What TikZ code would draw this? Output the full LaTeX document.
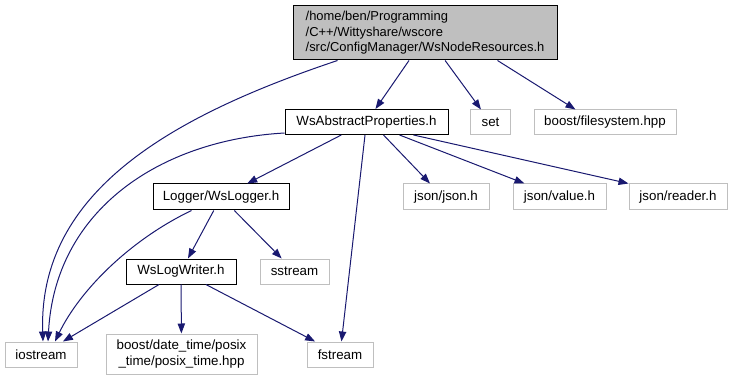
\documentclass[tikz,border=0pt]{standalone}
\usepackage{fontspec}
\setmainfont{Liberation Sans}
\usetikzlibrary{arrows.meta,calc}
\definecolor{edgeblue}{HTML}{191970}
\definecolor{sysgray}{HTML}{BFBFBF}
\begin{document}
\begin{tikzpicture}[x=0.75pt,y=-0.75pt,
  font=\fontsize{10}{11.8}\selectfont,
  hdr/.style={draw=black,line width=0.75pt,minimum height=18.75pt,inner sep=0pt},
  sys/.style={draw=sysgray,line width=0.75pt,minimum height=18.75pt,inner sep=0pt},
  dep/.style={draw=edgeblue,line width=0.75pt,-{Triangle[length=7.5pt,width=5.5pt]}}]
\useasboundingbox (0,0) rectangle (732,381);
\node[hdr,fill=sysgray,align=left,minimum width=198pt,minimum height=40.5pt,
  font=\fontsize{9.7}{11.6}\selectfont] (root) at (425,33)
  {/home/ben/Programming\\/C++/Wittyshare/wscore\\/src/ConfigManager/WsNodeResources.h};
\node[hdr,minimum width=122.25pt] (props) at (366.5,122) {WsAbstractProperties.h};
\node[sys,minimum width=30pt] (set) at (490.5,122.5) {set};
\node[sys,minimum width=106.5pt] (fs) at (605,122.5) {boost/filesystem.hpp};
\node[hdr,minimum width=102pt,minimum height=19.5pt] (logger) at (221,197) {Logger/WsLogger.h};
\node[sys,minimum width=64.5pt,minimum height=19.5pt] (json) at (446,197) {json/json.h};
\node[sys,minimum width=69.75pt,minimum height=19.5pt] (value) at (559.5,197) {json/value.h};
\node[sys,minimum width=73.5pt,minimum height=19.5pt] (reader) at (678,197) {json/reader.h};
\node[hdr,minimum width=82.5pt] (writer) at (181,271.5) {WsLogWriter.h};
\node[sys,minimum width=51.75pt] (sstream) at (294.5,271.5) {sstream};
\node[sys,minimum width=54pt] (iostream) at (41,354.5) {iostream};
\node[sys,minimum width=113.25pt,minimum height=30pt,align=center] (datetime) at (181.5,354)
  {boost/date\_time/posix\\\_time/posix\_time.hpp};
\node[sys,minimum width=49.5pt] (fstream) at (340,354.5) {fstream};

\draw[dep] ($(root.south west)+(45,0)$) .. controls (175,115) and (38,190) .. ($(iostream.north)+(2,0)$);
\draw[dep] ($(root.south)+(-16,0)$) -- (props);
\draw[dep] (root) -- (set);
\draw[dep] ($(root.south east)+(-60,0)$) -- ($(fs.north west)+(42,0)$);
\draw[dep] ($(props.south west)+(0,-2)$) .. controls (160,140) and (55,210) .. ($(iostream.north)+(7,0)$);
\draw[dep] (props) -- (logger);
\draw[dep] (props) -- (fstream);
\draw[dep] ($(props.south west)+(99,0)$) -- ($(json.north)+(-16,0)$);
\draw[dep] ($(props.south west)+(115,0)$) -- ($(value.north west)+(12,0)$);
\draw[dep] ($(props.south west)+(129,0)$) -- (reader.north west);
\draw[dep] ($(logger.south west)+(39,0)$) .. controls (130,240) and (80,290) .. ($(iostream.north)+(14,0)$);
\draw[dep] (logger) -- (writer);
\draw[dep] (logger) -- (sstream);
\draw[dep] (writer) -- (iostream);
\draw[dep] (writer) -- (datetime);
\draw[dep] (writer) -- (fstream);
\end{tikzpicture}
\end{document}
